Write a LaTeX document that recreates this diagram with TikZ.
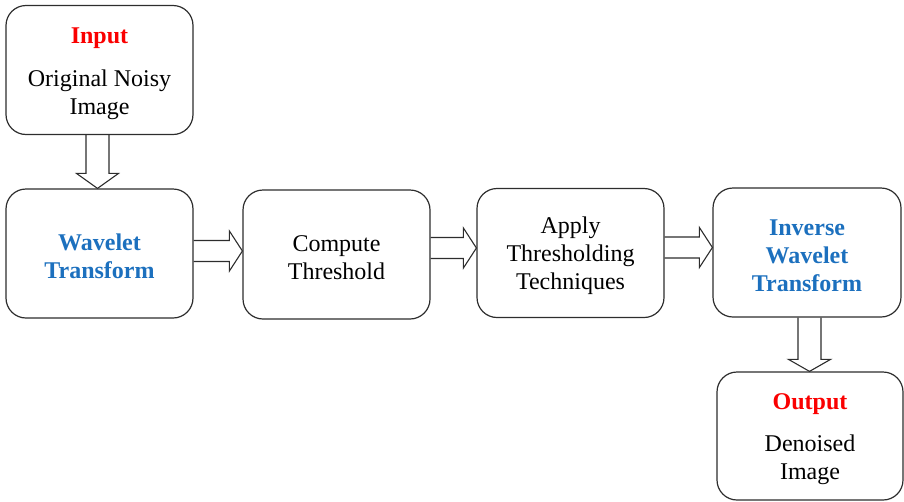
\documentclass[tikz,border=0pt]{standalone}
\usepackage{fontspec}
\setmainfont{Liberation Serif}
\usetikzlibrary{calc}

\definecolor{titleblue}{RGB}{28,112,190}
\definecolor{titlered}{RGB}{250,0,0}
\definecolor{edge}{RGB}{45,45,45}

% tall strut for the first line, which sets the text a little low in its box
\newcommand{\firstline}{\rule{0pt}{23pt}}

\tikzset{
  stagebox/.style={draw=edge, line width=1.2pt, rounded corners=20pt,
    minimum width=187pt, minimum height=129pt, inner sep=0pt,
    align=center, font=\fontsize{24}{28}\selectfont},
  blockarrow/.style={draw=edge, line width=1.1pt, line join=miter},
}

% hollow block arrow pointing right, from #1 to #2, axis shifted by #3
\newcommand{\rightblock}[3]{%
  \coordinate (s) at ($(#1.east)+(0,#3)$);
  \coordinate (t) at (#2.west |- s);
  \draw[blockarrow] ($(s)+(0,-10.5)$) -- ($(t)+(-13,-10.5)$) -- ($(t)+(-13,-20)$)
    -- (t) -- ($(t)+(-13,20)$) -- ($(t)+(-13,10.5)$) -- ($(s)+(0,10.5)$);
}
% hollow block arrow pointing down, from #1 to #2, axis shifted by #3, head length #4
\newcommand{\downblock}[4]{%
  \coordinate (s) at ($(#1.south)+(#3,0)$);
  \coordinate (t) at (s |- #2.north);
  \draw[blockarrow] ($(s)+(-11.5,0)$) -- ($(t)+(-11.5,-#4)$) -- ($(t)+(-21,-#4)$)
    -- (t) -- ($(t)+(21,-#4)$) -- ($(t)+(11.5,-#4)$) -- ($(s)+(11.5,0)$);
}

\begin{document}
\begin{tikzpicture}[x=1pt, y=-1pt]
  \useasboundingbox (0,0) rectangle (904,501);

  \node[stagebox] (in) at (99.5,70)
    {\firstline{\bfseries\color{titlered}Input}\\[15pt]Original Noisy\\Image};
  \node[stagebox, text=titleblue, font=\fontsize{24}{28}\selectfont\bfseries]
    (wt) at (99.5,253.5) {\firstline Wavelet\\Transform};
  \node[stagebox] (ct) at (336.5,254.5) {\firstline Compute\\Threshold};
  \node[stagebox] (at) at (570.5,253) {\firstline Apply\\Thresholding\\Techniques};
  \node[stagebox, minimum width=188pt, text=titleblue,
        font=\fontsize{24}{28}\selectfont\bfseries]
    (iw) at (807,252.5) {\firstline Inverse\\Wavelet\\Transform};
  \node[stagebox, minimum width=186pt, minimum height=128pt] (out) at (810,436)
    {\firstline{\bfseries\color{titlered}Output}\\[14pt]Denoised\\Image};

  \downblock{in}{wt}{-2}{15}
  \rightblock{wt}{ct}{-2.5}
  \rightblock{ct}{at}{-6.5}
  \rightblock{at}{iw}{-5.5}
  \downblock{iw}{out}{2.5}{12}
\end{tikzpicture}
\end{document}
